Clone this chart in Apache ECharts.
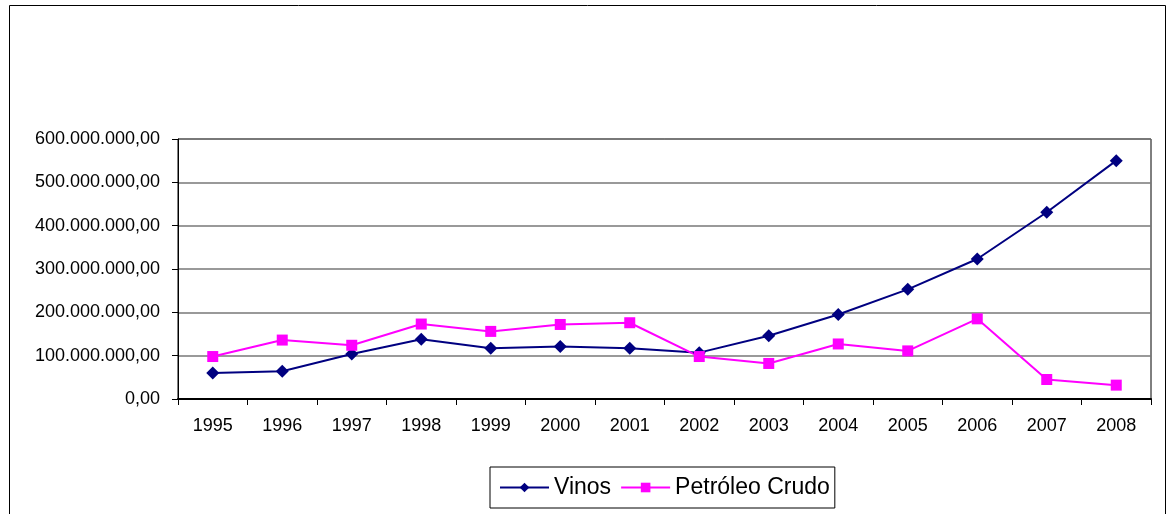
<!DOCTYPE html>
<html>
<head>
<meta charset="utf-8">
<script src="https://cdn.jsdelivr.net/npm/echarts@6/dist/echarts.min.js"></script>
<style>
  html, body { margin: 0; padding: 0; background: #fff; }
  #chart { width: 1172px; height: 514px; }
</style>
</head>
<body>
<div id="chart"></div>
<script>
// datos
var years = ['1995', '1996', '1997', '1998', '1999', '2000', '2001', '2002', '2003', '2004', '2005', '2006', '2007', '2008'];
var vinos = [60e6, 64e6, 104e6, 138e6, 117e6, 121e6, 117e6, 107e6, 146e6, 195e6, 253e6, 323e6, 431e6, 550e6];
var petroleo = [98e6, 136e6, 124e6, 173e6, 156e6, 172e6, 176e6, 98e6, 82e6, 127e6, 111e6, 185e6, 45e6, 32e6];

function fmt(v) {
  var s = String(Math.round(v));
  s = s.replace(/\B(?=(\d{3})+(?!\d))/g, '.');
  return s + ',00';
}

var myChart = echarts.init(document.getElementById('chart'));
var font = 'Liberation Sans, Arial, sans-serif';

var option = {
  backgroundColor: '#fff',
  animation: false,
  textStyle: { fontFamily: font },
  graphic: [
    {
      type: 'rect',
      shape: { x: 9.5, y: 5.5, width: 1156, height: 520 },
      style: { fill: 'none', stroke: '#000', lineWidth: 1 },
      z: -1
    }
  ],
  grid: {
    left: 178, right: 21, top: 139, bottom: 115,
    show: true, borderColor: '#000', borderWidth: 1, backgroundColor: 'transparent'
  },
  legend: {
    left: 490, top: 467,
    padding: [9, 5, 9, 9],
    borderColor: '#000', borderWidth: 1,
    itemWidth: 49, itemHeight: 12, itemGap: 9,
    textStyle: { fontSize: 23, color: '#000', fontFamily: font },
    data: ['Vinos', 'Petróleo Crudo']
  },
  xAxis: {
    type: 'category',
    data: years,
    boundaryGap: true,
    axisLine: { lineStyle: { color: '#000', width: 2 } },
    axisTick: { show: true, length: 6, lineStyle: { color: '#000' } },
    axisLabel: { color: '#000', fontSize: 18, margin: 18 },
    splitLine: { show: false }
  },
  yAxis: {
    type: 'value',
    min: 0, max: 600e6, interval: 100e6,
    axisLine: { show: true, lineStyle: { color: '#000', width: 1 } },
    axisTick: { show: true, length: 6, lineStyle: { color: '#000' } },
    axisLabel: { color: '#000', fontSize: 18, margin: 18, formatter: fmt },
    splitLine: { show: true, lineStyle: { color: '#777', width: 1.5 } }
  },
  series: [
    {
      name: 'Vinos',
      type: 'line',
      data: vinos,
      symbol: 'diamond',
      symbolSize: 13,
      color: '#000080',
      lineStyle: { color: '#000080', width: 2 },
      itemStyle: { color: '#000080' }
    },
    {
      name: 'Petróleo Crudo',
      type: 'line',
      data: petroleo,
      symbol: 'rect',
      symbolSize: 11,
      color: '#ff00ff',
      lineStyle: { color: '#ff00ff', width: 2 },
      itemStyle: { color: '#ff00ff' }
    }
  ]
};

myChart.setOption(option);
</script>
</body>
</html>
